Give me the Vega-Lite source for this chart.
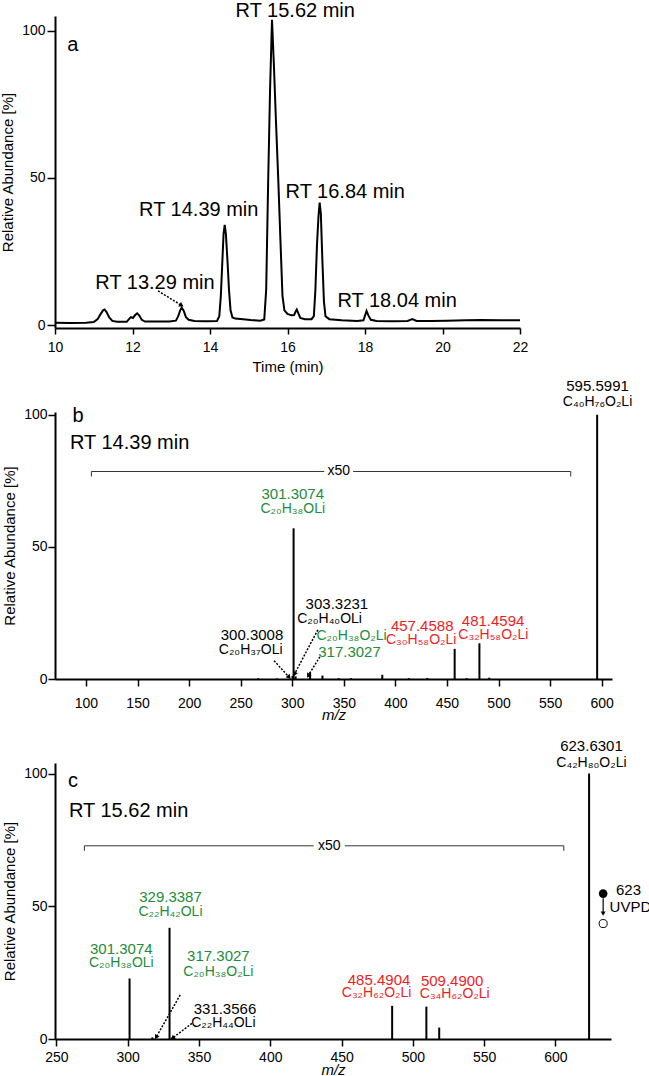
{
  "$schema": "https://vega.github.io/schema/vega-lite/v6.json",
  "padding": {"left": 0, "top": 1, "right": 0, "bottom": 0},
  "spacing": 84,
  "bounds": "flush",
  "config": {
    "view": {"stroke": null},
    "font": "Liberation Sans",
    "axis": {"domainColor": "black", "domainWidth": 2, "tickColor": "black", "tickWidth": 1.5, "labelColor": "black", "titleColor": "black", "labelFontSize": 14, "titleFontSize": 15, "titleFontWeight": "normal", "grid": false, "labelFont": "Liberation Sans", "titleFont": "Liberation Sans", "labelFlush": false, "labelOverlap": false}
  },
  "datasets": {
    "trace": [
      {"t":10.00,"ab":0.8},{"t":10.40,"ab":0.7},{"t":10.80,"ab":0.8},{"t":11.00,"ab":1.0},{"t":11.10,"ab":2.0},{"t":11.18,"ab":3.8},{"t":11.24,"ab":5.0},{"t":11.28,"ab":5.3},{"t":11.33,"ab":4.4},{"t":11.40,"ab":2.6},{"t":11.48,"ab":1.4},{"t":11.60,"ab":1.1},{"t":11.85,"ab":1.1},{"t":11.92,"ab":2.2},{"t":11.96,"ab":2.7},{"t":12.01,"ab":2.4},{"t":12.07,"ab":3.4},{"t":12.12,"ab":4.0},{"t":12.17,"ab":3.3},{"t":12.24,"ab":1.8},{"t":12.32,"ab":1.2},{"t":12.60,"ab":1.2},{"t":12.95,"ab":1.2},{"t":13.12,"ab":1.5},{"t":13.18,"ab":3.0},{"t":13.23,"ab":5.0},{"t":13.27,"ab":5.9},{"t":13.32,"ab":4.9},{"t":13.38,"ab":2.7},{"t":13.45,"ab":1.8},{"t":13.60,"ab":1.4},{"t":13.90,"ab":1.3},{"t":14.18,"ab":1.4},{"t":14.24,"ab":3.0},{"t":14.28,"ab":10},{"t":14.32,"ab":22},{"t":14.35,"ab":31},{"t":14.38,"ab":34},{"t":14.41,"ab":31},{"t":14.45,"ab":22},{"t":14.49,"ab":12},{"t":14.53,"ab":5},{"t":14.58,"ab":2.6},{"t":14.65,"ab":2.2},{"t":14.85,"ab":2.0},{"t":15.05,"ab":1.7},{"t":15.30,"ab":1.5},{"t":15.40,"ab":1.9},{"t":15.45,"ab":12},{"t":15.50,"ab":48},{"t":15.55,"ab":80},{"t":15.60,"ab":103.7},{"t":15.65,"ab":88},{"t":15.70,"ab":70},{"t":15.76,"ab":50},{"t":15.82,"ab":28},{"t":15.87,"ab":10},{"t":15.92,"ab":5},{"t":16.00,"ab":3.8},{"t":16.10,"ab":3.3},{"t":16.17,"ab":3.4},{"t":16.21,"ab":4.6},{"t":16.24,"ab":5.3},{"t":16.28,"ab":4.0},{"t":16.33,"ab":2.4},{"t":16.45,"ab":2.0},{"t":16.62,"ab":2.0},{"t":16.68,"ab":3.0},{"t":16.72,"ab":12},{"t":16.76,"ab":27},{"t":16.80,"ab":37},{"t":16.83,"ab":41.6},{"t":16.86,"ab":38},{"t":16.90,"ab":22},{"t":16.94,"ab":8},{"t":16.98,"ab":3.0},{"t":17.08,"ab":2.0},{"t":17.40,"ab":1.6},{"t":17.80,"ab":1.4},{"t":17.96,"ab":1.6},{"t":18.00,"ab":3.2},{"t":18.04,"ab":4.8},{"t":18.09,"ab":3.2},{"t":18.15,"ab":1.8},{"t":18.30,"ab":1.4},{"t":18.70,"ab":1.3},{"t":19.10,"ab":1.4},{"t":19.22,"ab":2.0},{"t":19.33,"ab":1.4},{"t":19.70,"ab":1.4},{"t":20.10,"ab":1.5},{"t":20.60,"ab":1.6},{"t":21.00,"ab":1.7},{"t":21.50,"ab":1.6},{"t":22.00,"ab":1.6}
    ],
    "peaks": [
      {"panel":"b","mz":267.0,"ab":0.3},{"panel":"b","mz":285.0,"ab":0.2},{"panel":"b","mz":300.3,"ab":1.2},{"panel":"b","mz":301.3,"ab":57},{"panel":"b","mz":303.3,"ab":1.0},{"panel":"b","mz":317.3,"ab":2.5},{"panel":"b","mz":329.3,"ab":1.3},{"panel":"b","mz":345.0,"ab":0.3},{"panel":"b","mz":357.0,"ab":0.3},{"panel":"b","mz":387.3,"ab":1.6},{"panel":"b","mz":413.0,"ab":0.3},{"panel":"b","mz":431.0,"ab":0.4},{"panel":"b","mz":457.46,"ab":11.4},{"panel":"b","mz":469.0,"ab":0.3},{"panel":"b","mz":481.46,"ab":13.5},{"panel":"b","mz":491.0,"ab":0.5},{"panel":"b","mz":595.6,"ab":100},
      {"panel":"c","mz":301.3,"ab":22.8},{"panel":"c","mz":317.3,"ab":0.6},{"panel":"c","mz":329.34,"ab":41.9},{"panel":"c","mz":331.36,"ab":0.6},{"panel":"c","mz":485.49,"ab":12.5},{"panel":"c","mz":509.49,"ab":12.2},{"panel":"c","mz":518.5,"ab":4.3},{"panel":"c","mz":623.63,"ab":100}
    ],
    "labels": [
      {"panel":"a","kind":"rt","cls":"k","x":16.2,"y":106.6,"text":"RT 15.62 min"},
      {"panel":"a","kind":"rt","cls":"k","x":13.71,"y":39.1,"text":"RT 14.39 min"},
      {"panel":"a","kind":"rt","cls":"k","x":17.49,"y":45.2,"text":"RT 16.84 min"},
      {"panel":"a","kind":"rt","cls":"k","x":12.58,"y":14.3,"text":"RT 13.29 min"},
      {"panel":"a","kind":"rt","cls":"k","x":18.83,"y":8.2,"text":"RT 18.04 min"},
      {"panel":"a","kind":"rt","cls":"k","x":10.46,"y":95,"text":"a"},
      {"panel":"b","kind":"rt","cls":"k","x":92.3,"y":99.4,"text":"b"},
      {"panel":"b","kind":"rtl","cls":"k","x":84.5,"y":89.2,"text":"RT 14.39 min"},
      {"panel":"b","kind":"x50","cls":"k","x":345,"y":78.5,"text":"x50"},
      {"panel":"b","kind":"peak","cls":"k","x":596,"y":110.7,"text":"595.5991"},
      {"panel":"b","kind":"form","cls":"k","x":596,"y":104.7,"text":"C₄₀H₇₆O₂Li"},
      {"panel":"b","kind":"peak","cls":"g","x":300.5,"y":69.9,"text":"301.3074"},
      {"panel":"b","kind":"form","cls":"g","x":300.5,"y":64.4,"text":"C₂₀H₃₈OLi"},
      {"panel":"b","kind":"peak","cls":"k","x":343.3,"y":28.4,"text":"303.3231"},
      {"panel":"b","kind":"form","cls":"k","x":336.2,"y":22.6,"text":"C₂₀H₄₀OLi"},
      {"panel":"b","kind":"peak","cls":"k","x":261,"y":16.7,"text":"300.3008"},
      {"panel":"b","kind":"form","cls":"k","x":259.7,"y":11.0,"text":"C₂₀H₃₇OLi"},
      {"panel":"b","kind":"form","cls":"g","x":357.5,"y":16.3,"text":"C₂₀H₃₈O₂Li"},
      {"panel":"b","kind":"peak","cls":"g","x":355.5,"y":10.1,"text":"317.3027"},
      {"panel":"b","kind":"peak","cls":"r","x":426,"y":20.1,"text":"457.4588"},
      {"panel":"b","kind":"form","cls":"r","x":425.0,"y":14.8,"text":"C₃₀H₅₈O₂Li"},
      {"panel":"b","kind":"peak","cls":"r","x":494.7,"y":22.0,"text":"481.4594"},
      {"panel":"b","kind":"form","cls":"r","x":495.0,"y":16.7,"text":"C₃₂H₅₈O₂Li"},
      {"panel":"c","kind":"rt","cls":"k","x":261.7,"y":97.2,"text":"c"},
      {"panel":"c","kind":"rtl","cls":"k","x":258.8,"y":85.9,"text":"RT 15.62 min"},
      {"panel":"c","kind":"x50","cls":"k","x":441.4,"y":72.8,"text":"x50"},
      {"panel":"c","kind":"peak","cls":"k","x":625.3,"y":110.4,"text":"623.6301"},
      {"panel":"c","kind":"form","cls":"k","x":625.3,"y":104.1,"text":"C₄₂H₈₀O₂Li"},
      {"panel":"c","kind":"peak","cls":"g","x":330,"y":53.6,"text":"329.3387"},
      {"panel":"c","kind":"form","cls":"g","x":330,"y":47.7,"text":"C₂₂H₄₂OLi"},
      {"panel":"c","kind":"peak","cls":"g","x":295.5,"y":34.1,"text":"301.3074"},
      {"panel":"c","kind":"form","cls":"g","x":295.5,"y":28.5,"text":"C₂₀H₃₈OLi"},
      {"panel":"c","kind":"peak","cls":"g","x":363.6,"y":31.2,"text":"317.3027"},
      {"panel":"c","kind":"form","cls":"g","x":363.6,"y":25.1,"text":"C₂₀H₃₈O₂Li"},
      {"panel":"c","kind":"peak","cls":"r","x":476.3,"y":22.4,"text":"485.4904"},
      {"panel":"c","kind":"form","cls":"r","x":474.6,"y":17.2,"text":"C₃₂H₆₂O₂Li"},
      {"panel":"c","kind":"peak","cls":"r","x":527.6,"y":21.9,"text":"509.4900"},
      {"panel":"c","kind":"form","cls":"r","x":529.4,"y":16.8,"text":"C₃₄H₆₂O₂Li"},
      {"panel":"c","kind":"peak","cls":"k","x":368.2,"y":11.3,"text":"331.3566"},
      {"panel":"c","kind":"form","cls":"k","x":367.1,"y":5.9,"text":"C₂₂H₄₄OLi"},
      {"panel":"c","kind":"side","cls":"k","x":642.5,"y":56.3,"text":"623"},
      {"panel":"c","kind":"side","cls":"k","x":638.0,"y":49.8,"text":"UVPD"}
    ],
    "arrows": [
      {"panel":"a","id":"a1","x":12.66,"y":11.6,"x2":13.25,"y2":6.8},
      {"panel":"b","id":"b1","x":282.4,"y":6.9,"x2":296.5,"y2":0.9},
      {"panel":"b","id":"b2","x":324.8,"y":18.6,"x2":302.5,"y2":2.1},
      {"panel":"b","id":"b3","x":326.8,"y":8.4,"x2":315.9,"y2":1.5},
      {"panel":"c","id":"c1","x":336.8,"y":16.6,"x2":320.2,"y2":0.9},
      {"panel":"c","id":"c2","x":345.0,"y":5.9,"x2":331.9,"y2":0.5}
    ],
    "brackets": [
      {"panel":"b","x":105.3,"x2":105.3,"y":76.6,"y2":78.5},
      {"panel":"b","x":105.3,"x2":331,"y":78.5,"y2":78.5},
      {"panel":"b","x":359,"x2":570,"y":78.5,"y2":78.5},
      {"panel":"b","x":570,"x2":570,"y":78.5,"y2":76.6},
      {"panel":"c","x":269.6,"x2":269.6,"y":70.9,"y2":72.8},
      {"panel":"c","x":269.6,"x2":430.4,"y":72.8,"y2":72.8},
      {"panel":"c","x":452.3,"x2":605.9,"y":72.8,"y2":72.8},
      {"panel":"c","x":605.9,"x2":605.9,"y":72.8,"y2":70.9}
    ],
    "uvpd": [
      {"state":"before","x":633.5,"y":54.8},
      {"state":"after","x":633.5,"y":43.5}
    ],
    "uvpdArrow": [
      {"x":633.5,"y":53.0,"y2":47.2}
    ]
  },
  "vconcat": [
    {
      "width": 465,
      "height": 312,
      "layer": [
        {
          "data": {"name": "trace"},
          "mark": {"type": "line", "color": "black", "strokeWidth": 2, "clip": false},
          "encoding": {
            "x": {"field": "t", "type": "quantitative", "scale": {"domain": [10, 22], "nice": false, "zero": false},
                  "axis": {"title": "Time (min)", "values": [10,11,12,13,14,15,16,17,18,19,20,21,22], "labelExpr": "datum.value % 2 === 0 ? datum.label : ''", "tickSize": 6, "labelPadding": 6, "titlePadding": 5}},
            "y": {"field": "ab", "type": "quantitative", "scale": {"domain": [-1, 105], "nice": false, "zero": false},
                  "axis": {"title": "Relative Abundance [%]", "values": [0, 50, 100], "tickSize": 8, "labelPadding": 2, "titlePadding": 6}}
          }
        },
        {
          "data": {"name": "labels"},
          "transform": [{"filter": "datum.panel === 'a' && datum.kind === 'rt'"}],
          "mark": {"type": "text", "fontSize": 20, "align": "center", "baseline": "middle", "color": "black"},
          "encoding": {"x": {"field": "x", "type": "quantitative"}, "y": {"field": "y", "type": "quantitative"}, "text": {"field": "text"}}
        },
        {
          "data": {"name": "arrows"},
          "transform": [{"filter": "datum.panel === 'a'"}],
          "mark": {"type": "rule", "color": "black", "strokeWidth": 1.5, "strokeDash": [2, 1.5]},
          "encoding": {"x": {"field": "x", "type": "quantitative"}, "y": {"field": "y", "type": "quantitative"}, "x2": {"field": "x2"}, "y2": {"field": "y2"}}
        },
        {
          "data": {"name": "arrows"},
          "transform": [{"filter": "datum.id === 'a1'"}],
          "mark": {"type": "point", "shape": "triangle", "filled": true, "color": "black", "opacity": 1, "size": 28, "angle": 121},
          "encoding": {"x": {"field": "x2", "type": "quantitative"}, "y": {"field": "y2", "type": "quantitative"}}
        }
      ]
    },
    {
      "width": 557,
      "height": 267,
      "layer": [
        {
          "data": {"name": "peaks"},
          "transform": [{"filter": "datum.panel === 'b'"}],
          "mark": {"type": "rule", "color": "black", "strokeWidth": 2},
          "encoding": {
            "x": {"field": "mz", "type": "quantitative", "scale": {"domain": [70, 610], "nice": false, "zero": false},
                  "axis": {"title": "m/z", "titleFontStyle": "italic", "values": [100,150,200,250,300,350,400,450,500,550,600], "tickSize": 7, "labelPadding": 10, "titlePadding": -3}},
            "y": {"field": "ab", "type": "quantitative", "scale": {"domain": [0, 101], "nice": false, "zero": false},
                  "axis": {"title": "Relative Abundance [%]", "values": [0, 50, 100], "tickSize": 7, "labelPadding": 1, "titlePadding": 6}},
            "y2": {"datum": 0}
          }
        },
        {
          "data": {"name": "brackets"},
          "transform": [{"filter": "datum.panel === 'b'"}],
          "mark": {"type": "rule", "color": "#333333", "strokeWidth": 1},
          "encoding": {"x": {"field": "x", "type": "quantitative"}, "y": {"field": "y", "type": "quantitative"}, "x2": {"field": "x2"}, "y2": {"field": "y2"}}
        },
        {
          "data": {"name": "labels"},
          "transform": [{"filter": "datum.panel === 'b' && datum.kind === 'rt'"}],
          "mark": {"type": "text", "fontSize": 20, "align": "center", "baseline": "middle", "color": "black"},
          "encoding": {"x": {"field": "x", "type": "quantitative"}, "y": {"field": "y", "type": "quantitative"}, "text": {"field": "text"}}
        },
        {
          "data": {"name": "labels"},
          "transform": [{"filter": "datum.panel === 'b' && datum.kind === 'rtl'"}],
          "mark": {"type": "text", "fontSize": 20, "align": "left", "baseline": "middle", "color": "black"},
          "encoding": {"x": {"field": "x", "type": "quantitative"}, "y": {"field": "y", "type": "quantitative"}, "text": {"field": "text"}}
        },
        {
          "data": {"name": "labels"},
          "transform": [{"filter": "datum.panel === 'b' && datum.kind === 'x50'"}],
          "mark": {"type": "text", "fontSize": 14, "align": "center", "baseline": "middle", "color": "black"},
          "encoding": {"x": {"field": "x", "type": "quantitative"}, "y": {"field": "y", "type": "quantitative"}, "text": {"field": "text"}}
        },
        {
          "data": {"name": "labels"},
          "transform": [{"filter": "datum.panel === 'b' && datum.kind === 'peak'"}],
          "mark": {"type": "text", "fontSize": 15, "align": "center", "baseline": "middle"},
          "encoding": {"x": {"field": "x", "type": "quantitative"}, "y": {"field": "y", "type": "quantitative"}, "text": {"field": "text"},
                       "color": {"field": "cls", "type": "nominal", "scale": {"domain": ["k", "g", "r"], "range": ["#000000", "#1e8c3a", "#ee1d25"]}, "legend": null}}
        },
        {
          "data": {"name": "labels"},
          "transform": [{"filter": "datum.panel === 'b' && datum.kind === 'form'"}],
          "mark": {"type": "text", "fontSize": 14, "align": "center", "baseline": "middle"},
          "encoding": {"x": {"field": "x", "type": "quantitative"}, "y": {"field": "y", "type": "quantitative"}, "text": {"field": "text"},
                       "color": {"field": "cls", "type": "nominal", "scale": {"domain": ["k", "g", "r"], "range": ["#000000", "#1e8c3a", "#ee1d25"]}, "legend": null}}
        },
        {
          "data": {"name": "arrows"},
          "transform": [{"filter": "datum.panel === 'b'"}],
          "mark": {"type": "rule", "color": "black", "strokeWidth": 1.5, "strokeDash": [2, 1.5]},
          "encoding": {"x": {"field": "x", "type": "quantitative"}, "y": {"field": "y", "type": "quantitative"}, "x2": {"field": "x2"}, "y2": {"field": "y2"}}
        },
        {
          "data": {"name": "arrows"},
          "transform": [{"filter": "datum.id === 'b1'"}],
          "mark": {"type": "point", "shape": "triangle", "filled": true, "color": "black", "opacity": 1, "size": 28, "angle": 138},
          "encoding": {"x": {"field": "x2", "type": "quantitative"}, "y": {"field": "y2", "type": "quantitative"}}
        },
        {
          "data": {"name": "arrows"},
          "transform": [{"filter": "datum.id === 'b2'"}],
          "mark": {"type": "point", "shape": "triangle", "filled": true, "color": "black", "opacity": 1, "size": 28, "angle": 208},
          "encoding": {"x": {"field": "x2", "type": "quantitative"}, "y": {"field": "y2", "type": "quantitative"}}
        },
        {
          "data": {"name": "arrows"},
          "transform": [{"filter": "datum.id === 'b3'"}],
          "mark": {"type": "point", "shape": "triangle", "filled": true, "color": "black", "opacity": 1, "size": 28, "angle": 212},
          "encoding": {"x": {"field": "x2", "type": "quantitative"}, "y": {"field": "y2", "type": "quantitative"}}
        }
      ]
    },
    {
      "width": 556,
      "height": 276,
      "layer": [
        {
          "data": {"name": "peaks"},
          "transform": [{"filter": "datum.panel === 'c'"}],
          "mark": {"type": "rule", "color": "black", "strokeWidth": 2},
          "encoding": {
            "x": {"field": "mz", "type": "quantitative", "scale": {"domain": [249, 639], "nice": false, "zero": false},
                  "axis": {"title": "m/z", "titleFontStyle": "italic", "values": [250,300,350,400,450,500,550,600], "tickSize": 7, "labelPadding": 4, "titlePadding": -2}},
            "y": {"field": "ab", "type": "quantitative", "scale": {"domain": [0, 104], "nice": false, "zero": false},
                  "axis": {"title": "Relative Abundance [%]", "values": [0, 50, 100], "tickSize": 7, "labelPadding": 1, "titlePadding": 6}},
            "y2": {"datum": 0}
          }
        },
        {
          "data": {"name": "brackets"},
          "transform": [{"filter": "datum.panel === 'c'"}],
          "mark": {"type": "rule", "color": "#333333", "strokeWidth": 1},
          "encoding": {"x": {"field": "x", "type": "quantitative"}, "y": {"field": "y", "type": "quantitative"}, "x2": {"field": "x2"}, "y2": {"field": "y2"}}
        },
        {
          "data": {"name": "labels"},
          "transform": [{"filter": "datum.panel === 'c' && datum.kind === 'rt'"}],
          "mark": {"type": "text", "fontSize": 20, "align": "center", "baseline": "middle", "color": "black"},
          "encoding": {"x": {"field": "x", "type": "quantitative"}, "y": {"field": "y", "type": "quantitative"}, "text": {"field": "text"}}
        },
        {
          "data": {"name": "labels"},
          "transform": [{"filter": "datum.panel === 'c' && datum.kind === 'rtl'"}],
          "mark": {"type": "text", "fontSize": 20, "align": "left", "baseline": "middle", "color": "black"},
          "encoding": {"x": {"field": "x", "type": "quantitative"}, "y": {"field": "y", "type": "quantitative"}, "text": {"field": "text"}}
        },
        {
          "data": {"name": "labels"},
          "transform": [{"filter": "datum.panel === 'c' && datum.kind === 'x50'"}],
          "mark": {"type": "text", "fontSize": 14, "align": "center", "baseline": "middle", "color": "black"},
          "encoding": {"x": {"field": "x", "type": "quantitative"}, "y": {"field": "y", "type": "quantitative"}, "text": {"field": "text"}}
        },
        {
          "data": {"name": "labels"},
          "transform": [{"filter": "datum.panel === 'c' && datum.kind === 'side'"}],
          "mark": {"type": "text", "fontSize": 15, "align": "left", "baseline": "middle", "color": "black"},
          "encoding": {"x": {"field": "x", "type": "quantitative"}, "y": {"field": "y", "type": "quantitative"}, "text": {"field": "text"}}
        },
        {
          "data": {"name": "labels"},
          "transform": [{"filter": "datum.panel === 'c' && datum.kind === 'peak'"}],
          "mark": {"type": "text", "fontSize": 15, "align": "center", "baseline": "middle"},
          "encoding": {"x": {"field": "x", "type": "quantitative"}, "y": {"field": "y", "type": "quantitative"}, "text": {"field": "text"},
                       "color": {"field": "cls", "type": "nominal", "scale": {"domain": ["k", "g", "r"], "range": ["#000000", "#1e8c3a", "#ee1d25"]}, "legend": null}}
        },
        {
          "data": {"name": "labels"},
          "transform": [{"filter": "datum.panel === 'c' && datum.kind === 'form'"}],
          "mark": {"type": "text", "fontSize": 14, "align": "center", "baseline": "middle"},
          "encoding": {"x": {"field": "x", "type": "quantitative"}, "y": {"field": "y", "type": "quantitative"}, "text": {"field": "text"},
                       "color": {"field": "cls", "type": "nominal", "scale": {"domain": ["k", "g", "r"], "range": ["#000000", "#1e8c3a", "#ee1d25"]}, "legend": null}}
        },
        {
          "data": {"name": "arrows"},
          "transform": [{"filter": "datum.panel === 'c'"}],
          "mark": {"type": "rule", "color": "black", "strokeWidth": 1.5, "strokeDash": [2, 1.5]},
          "encoding": {"x": {"field": "x", "type": "quantitative"}, "y": {"field": "y", "type": "quantitative"}, "x2": {"field": "x2"}, "y2": {"field": "y2"}}
        },
        {
          "data": {"name": "arrows"},
          "transform": [{"filter": "datum.id === 'c1'"}],
          "mark": {"type": "point", "shape": "triangle", "filled": true, "color": "black", "opacity": 1, "size": 28, "angle": 210},
          "encoding": {"x": {"field": "x2", "type": "quantitative"}, "y": {"field": "y2", "type": "quantitative"}}
        },
        {
          "data": {"name": "arrows"},
          "transform": [{"filter": "datum.id === 'c2'"}],
          "mark": {"type": "point", "shape": "triangle", "filled": true, "color": "black", "opacity": 1, "size": 28, "angle": 233},
          "encoding": {"x": {"field": "x2", "type": "quantitative"}, "y": {"field": "y2", "type": "quantitative"}}
        },
        {
          "data": {"name": "uvpdArrow"},
          "mark": {"type": "rule", "color": "black", "strokeWidth": 1.2},
          "encoding": {"x": {"field": "x", "type": "quantitative"}, "y": {"field": "y", "type": "quantitative"}, "y2": {"field": "y2"}}
        },
        {
          "data": {"name": "uvpdArrow"},
          "mark": {"type": "point", "shape": "triangle-down", "filled": true, "color": "black", "opacity": 1, "size": 24},
          "encoding": {"x": {"field": "x", "type": "quantitative"}, "y": {"field": "y2", "type": "quantitative"}}
        },
        {
          "data": {"name": "uvpd"},
          "transform": [{"filter": "datum.state === 'before'"}],
          "mark": {"type": "point", "shape": "circle", "filled": true, "color": "black", "opacity": 1, "size": 75},
          "encoding": {"x": {"field": "x", "type": "quantitative"}, "y": {"field": "y", "type": "quantitative"}}
        },
        {
          "data": {"name": "uvpd"},
          "transform": [{"filter": "datum.state === 'after'"}],
          "mark": {"type": "point", "shape": "circle", "filled": false, "color": "black", "opacity": 1, "size": 65, "strokeWidth": 1},
          "encoding": {"x": {"field": "x", "type": "quantitative"}, "y": {"field": "y", "type": "quantitative"}}
        }
      ]
    }
  ]
}
